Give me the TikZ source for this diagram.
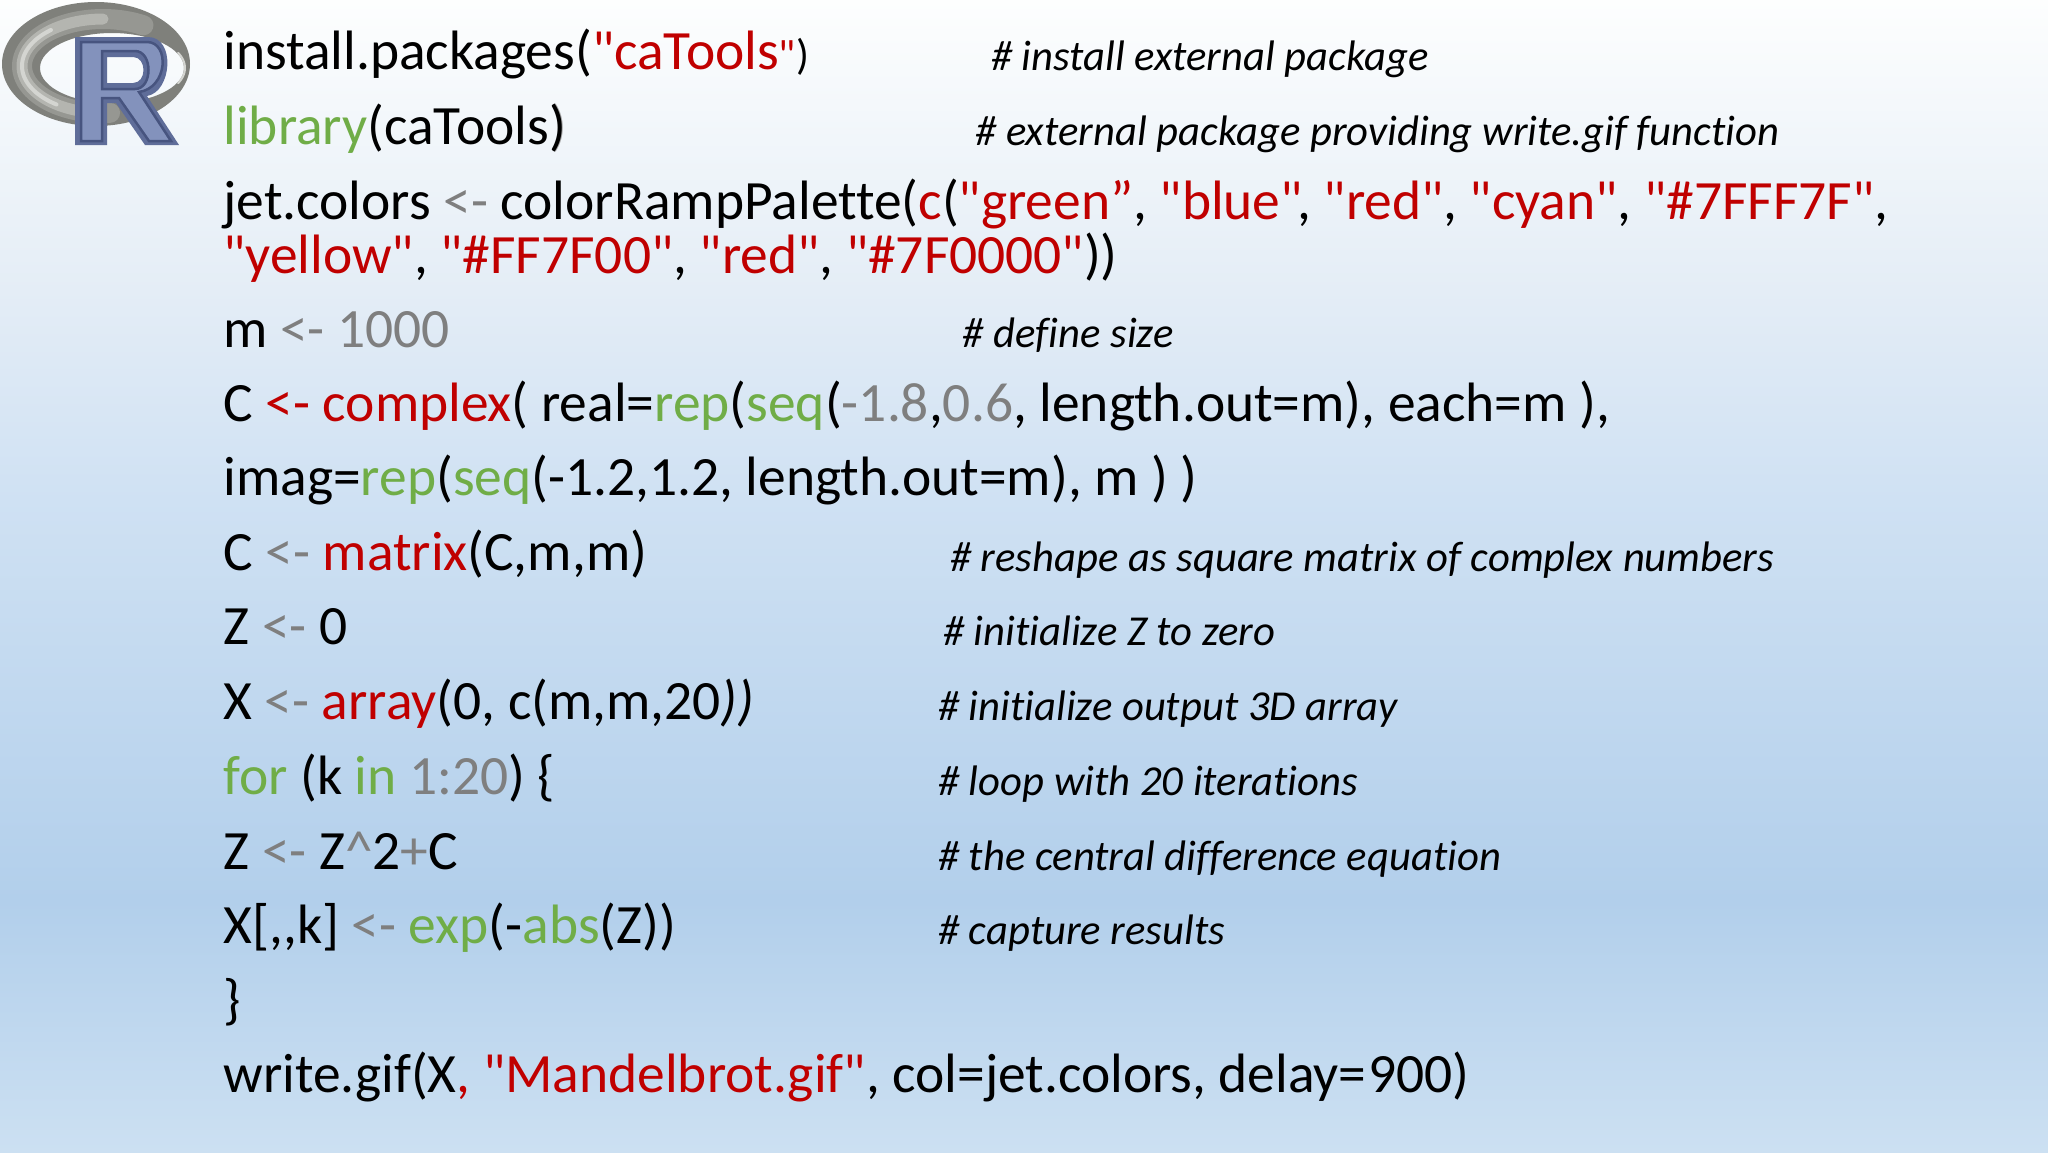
\documentclass[tikz,border=0pt]{standalone}
\usepackage{fontspec}
\newfontfamily\codefont[Ligatures=NoCommon]{Carlito}
\definecolor{codered}{HTML}{C00000}
\definecolor{codegreen}{HTML}{70AD47}
\definecolor{codegrey}{HTML}{7F7F7F}
\newcommand{\cR}[1]{\textcolor{codered}{#1}}
\newcommand{\cG}[1]{\textcolor{codegreen}{#1}}
\newcommand{\cK}[1]{\textcolor{codegrey}{#1}}
\definecolor{bgZ}{HTML}{FDFEFE}
\definecolor{bgA}{HTML}{E4EDF6}
\definecolor{bgB}{HTML}{CFE1F3}
\definecolor{bgC}{HTML}{B2CFEB}
\definecolor{bgE}{HTML}{CCE0F2}
\definecolor{ringA}{HTML}{7F807B}
\definecolor{ringB}{HTML}{969792}
\definecolor{ringC}{HTML}{B4B5B0}
\definecolor{ringD}{HTML}{D4D5D1}
\definecolor{letterEdge}{HTML}{47547F}
\definecolor{letterFace}{HTML}{8392BC}
\definecolor{letterDark}{HTML}{5F6D99}
\pgfdeclareverticalshading{slidebg}{100bp}{
  color(0bp)=(bgE);
  color(25bp)=(bgE);
  color(35.9bp)=(bgC);
  color(53.3bp)=(bgB);
  color(62.4bp)=(bgA);
  color(75bp)=(bgZ);
  color(100bp)=(bgZ)}
\tikzset{
  code/.style={anchor=base west,inner sep=0pt,outer sep=0pt,font=\codefont\fontsize{55.47}{55.47}\selectfont,text=black},
  note/.style={anchor=base west,inner sep=0pt,outer sep=0pt,font=\codefont\fontsize{42.67}{42.67}\selectfont\itshape,text=black},
  glow/.style={line cap=round,line join=round},
}
\newcommand{\ringpath}{(96,64) ellipse [x radius=94,y radius=62] (112,68) ellipse [x radius=72,y radius=35]}
\begin{document}
\begin{tikzpicture}[x=1pt,y=-1pt]
\useasboundingbox (0,0) rectangle (2048,1152);
\shade[shading=slidebg] (0,0) rectangle (2048,1152);
% R logo: ring
\fill[even odd rule,fill=ringA] \ringpath;
\begin{scope}[even odd rule]
  \clip \ringpath;
  \draw[glow,line width=20pt,color=ringB] plot[domain=85:300,samples=60] ({103+81*cos(\x)},{66+47*sin(\x)});
  \draw[glow,line width=11pt,color=ringC] plot[domain=105:270,samples=60] ({103+81*cos(\x)},{66+47*sin(\x)});
  \draw[glow,line width=4pt,color=ringD] plot[domain=125:230,samples=60] ({103+81*cos(\x)},{66+47*sin(\x)});
  \draw[glow,line width=2pt,color=ringD] plot[domain=-25:25,samples=20] ({112+73*cos(\x)},{68+36*sin(\x)});
\end{scope}
% R logo: letter
\fill[even odd rule,fill=letterDark] (75,37) -- (148,37) .. controls (176,37) and (172,92) .. (147,96) -- (179,145) -- (145,145) -- (116,103) -- (107,103) -- (107,145) -- (75,145) -- cycle
  (107,57) -- (133,57) .. controls (147,57) and (147,83) .. (133,83) -- (107,83) -- cycle;
\draw[line width=2.5pt,color=letterEdge,fill=letterFace,even odd rule] (81,42) -- (147,42) .. controls (170,42) and (168,88) .. (139,92) -- (171,141) -- (149,141) -- (119,98) -- (102,98) -- (102,141) -- (81,141) -- cycle
  (102,51) -- (135,51) .. controls (153,51) and (153,89) .. (135,89) -- (102,89) -- cycle;
% code lines
\node[code] (l1) at (223.5,69.5) {install.packages(\cR{"caTools}{\cR{\fontsize{42.67}{42.67}\selectfont"}\fontsize{42.67}{42.67}\selectfont)}};
\node[code] (l2) at (223.5,144.5) {\cG{library}(caTools\rlap{\hspace{1.8pt}\textcolor{gray!70}{)}})};
\node[code] (l3) at (223.5,219.5) {jet.colors \cK{<-} colorRampPalette(\cR{c}(\cR{"green”}, \cR{"blue"}\kern-5.5pt, \cR{"red"}, \cR{"cyan"}, \cR{"\#7FFF7F"},};
\node[code] (l4) at (223.5,273) {\cR{"yellow"}, \cR{"\#FF7F00"}, \cR{"red"}, \cR{"\#7F0000"}))};
\node[code] (l5) at (223.5,347) {m \cK{<- 1000}};
\node[code] (l6) at (223.5,421.5) {C \cR{<- complex}( real=\cG{rep}(\cG{seq}(\cK{-1.8},\cK{0.6}, length.out=m), each=m ),};
\node[code] (l7) at (223.5,495.5) {imag=\cG{rep}(\cG{seq}(-1.2,1.2, length.out=m), m ) )};
\node[code] (l8) at (223.5,570.5) {C \cK{<-} \cR{matrix}(C,m,m)};
\node[code] (l9) at (223.5,644.5) {Z \cK{<-} 0};
\node[code] (l10) at (223.5,719.5) {X \cK{<-} \cR{array}(0, c(m,m,20\textit{))}};
\node[code] (l11) at (223.5,794.5) {\cG{for} (k \cG{in} \cK{1:20}) \{};
\node[code] (l12) at (223.5,869.5) {Z \cK{<-} Z\cK{\textasciicircum}2\cK{+}C};
\node[code] (l13) at (223.5,943.5) {X[,,k] \cK{<-} \cG{exp}(-\cG{abs}(Z))};
\node[code] (l14) at (223.5,1018.5) {\}};
\node[code] (l15) at (223.5,1092.5) {write.gif(X\cR{, "Mandelbrot.gif"}, col=jet.colors, delay=\kern1.5pt 900)};
% comments
\node[note] (n1) at (991,70) {\# install external package};
\node[note] (n2) at (975.5,145) {\# external package providing write.gif function};
\node[note] (n5) at (962.5,347.5) {\# define size};
\node[note] (n8) at (950,571) {\# reshape as square matrix of complex numbers};
\node[note] (n9) at (943,645) {\# initialize Z to zero};
\node[note] (n10) at (938,720) {\# initialize output 3D array};
\node[note] (n11) at (938,795) {\# loop with 20 iterations};
\node[note] (n12) at (938,870) {\# the central difference equation};
\node[note] (n13) at (938,944) {\# capture results};
\end{tikzpicture}
\end{document}
